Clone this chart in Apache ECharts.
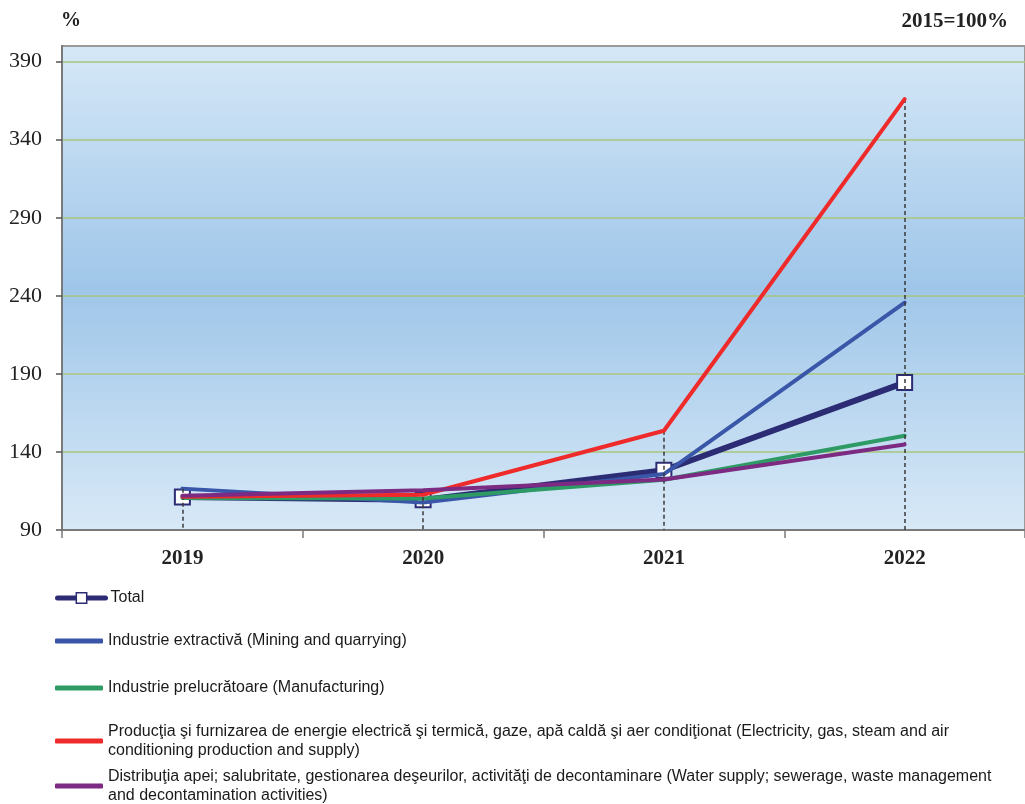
<!DOCTYPE html>
<html>
<head>
<meta charset="utf-8">
<script src="https://cdn.jsdelivr.net/npm/echarts@6/dist/echarts.min.js"></script>
<style>html,body{margin:0;padding:0;background:#fff}#c{width:1025px;height:804px}</style>
</head>
<body>
<div id="c"></div>
<script>
const years = ['2019', '2020', '2021', '2022'];
const yTicks = [90, 140, 190, 240, 290, 340, 390];
const names = [
  'Total',
  'Industrie extractivă (Mining and quarrying)',
  'Industrie prelucrătoare (Manufacturing)',
  'Producţia şi furnizarea de energie electrică şi termică, gaze, apă caldă şi aer condiţionat (Electricity, gas, steam and air\nconditioning production and supply)',
  'Distribuţia apei; salubritate, gestionarea deşeurilor, activităţi de decontaminare (Water supply; sewerage, waste management\nand decontamination activities)'
];
const total = [111.2, 109.3, 128.3, 184.4];
const mining = [116.5, 107.6, 125.8, 235.7];
const manufacturing = [110.5, 110.2, 122.2, 150.4];
const energy = [111.3, 112.6, 153.6, 366.0];
const water = [111.9, 115.4, 122.4, 144.7];

const colors = ['#2c2c74', '#3a56a8', '#2e9a64', '#ee2a2a', '#7c2a82'];
const allSeries = [total, mining, manufacturing, energy, water];
const maxPerYear = years.map((y, i) => Math.max(...allSeries.map(s => s[i])));

const chart = echarts.init(document.getElementById('c'), null, {renderer: 'canvas'});

const series = allSeries.map((d, k) => {
  const s = {
    name: names[k],
    type: 'line',
    data: d,
    z: 2 + k,
    lineStyle: {color: colors[k], width: k === 0 ? 6 : 4, cap: 'round', join: 'round'},
    itemStyle: {color: colors[k]},
    symbol: 'none',
    silent: true
  };
  if (k === 0) {
    s.symbol = 'rect';
    s.symbolSize = 15;
    s.showSymbol = true;
    s.itemStyle = {color: '#ffffff', borderColor: colors[0], borderWidth: 2};
    s.markLine = {
      silent: true,
      symbol: 'none',
      label: {show: false},
      lineStyle: {color: '#3a3a3a', type: [4, 3], width: 1.5},
      data: years.map((y, i) => [{coord: [y, maxPerYear[i]]}, {coord: [y, yTicks[0]]}])
    };
  }
  return s;
});

const legendCenters = [598, 641, 688, 733, 778];
const legends = names.map((n, k) => {
  const h = k === 0 ? 13 : 5;
  const lg = {
    data: [n],
    left: 55,
    top: legendCenters[k] - 9.5,
    padding: 0,
    itemWidth: 48,
    itemHeight: h,
    selectedMode: false,
    textStyle: {
      fontFamily: 'Liberation Sans, Arial, sans-serif',
      fontSize: 16,
      color: '#1a1a1a',
      lineHeight: 19,
      padding: n.indexOf('\n') >= 0 ? [0, 0, -19, 0] : 0
    }
  };
  if (k === 0) {
    lg.lineStyle = {width: 5, color: colors[0]};
    lg.itemStyle = {color: '#ffffff', borderColor: colors[0], borderWidth: 1.5};
  } else {
    lg.icon = 'roundRect';
  }
  return lg;
});

chart.setOption({
  animation: false,
  backgroundColor: '#ffffff',
  title: [
    {text: '%', left: 61, top: 11, padding: 0,
     textStyle: {fontFamily: 'Liberation Serif, Times New Roman, serif', fontWeight: 'bold', fontSize: 20, color: '#222'}},
    {text: '2015=100%', right: 17, top: 11, padding: 0,
     textStyle: {fontFamily: 'Liberation Serif, Times New Roman, serif', fontWeight: 'bold', fontSize: 21, color: '#222'}}
  ],
  legend: legends,
  grid: {
    left: 62, top: 46, right: 0, bottom: 274,
    show: true,
    borderColor: '#9a9a9a',
    borderWidth: 2,
    backgroundColor: new echarts.graphic.LinearGradient(0, 0, 0, 1, [
      {offset: 0, color: '#d6e8f7'},
      {offset: 0.5, color: '#9fc6e9'},
      {offset: 1, color: '#d8e9f7'}
    ])
  },
  xAxis: {
    type: 'category',
    data: years,
    boundaryGap: true,
    axisLine: {lineStyle: {color: '#7a7a7a', width: 2}},
    axisTick: {show: true, length: 8, lineStyle: {color: '#7a7a7a', width: 1.5}},
    axisLabel: {margin: 18, fontFamily: 'Liberation Serif, Times New Roman, serif', fontWeight: 'bold', fontSize: 21, color: '#222'},
    splitLine: {show: false}
  },
  yAxis: {
    type: 'value',
    min: yTicks[0],
    max: 400,
    interval: 50,
    axisLine: {show: true, lineStyle: {color: '#7a7a7a', width: 2}},
    axisTick: {show: true, length: 6, lineStyle: {color: '#555', width: 1.5}},
    axisLabel: {
      margin: 20, fontFamily: 'Liberation Serif, Times New Roman, serif', fontSize: 22, color: '#222',
      showMaxLabel: false,
      formatter: v => (yTicks.indexOf(v) >= 0 ? String(v) : '')
    },
    splitLine: {show: true, showMinLine: false, showMaxLine: false, lineStyle: {color: '#a9c67e', width: 1.5}}
  },
  series: series
});
</script>
</body>
</html>
